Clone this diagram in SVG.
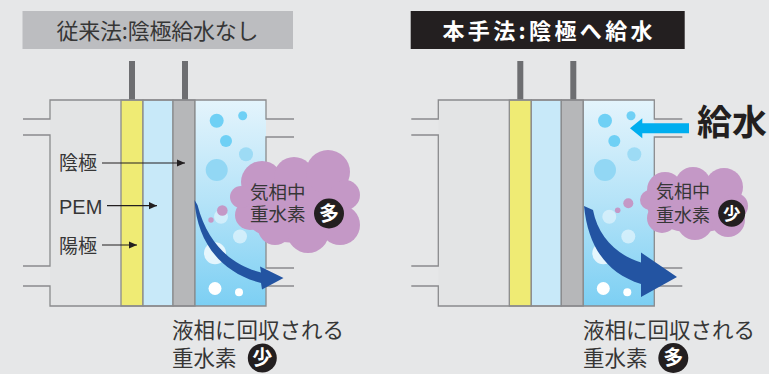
<svg xmlns="http://www.w3.org/2000/svg" width="769" height="374" viewBox="0 0 769 374">
  <defs>
    <linearGradient id="water" x1="0" y1="0" x2="0" y2="1">
      <stop offset="0" stop-color="#e4f4fc"/>
      <stop offset="0.5" stop-color="#b4e3f8"/>
      <stop offset="1" stop-color="#7ccff3"/>
    </linearGradient>
    <marker id="tip" viewBox="0 0 8 8" refX="8" refY="4" markerWidth="8" markerHeight="8" markerUnits="userSpaceOnUse" orient="auto">
      <path d="M0,0.4 L8,4 L0,7.6 Z" fill="#231f20"/>
    </marker>
    <!-- electrolysis cell: chambers, electrodes, membrane and pipe stubs -->
    <g id="cell">
      <rect x="50" y="100" width="71" height="206" fill="#e3e4e5"/>
      <rect x="129" y="61" width="6" height="39" fill="#6d6e71"/>
      <rect x="182" y="61" width="6" height="39" fill="#6d6e71"/>
      <rect x="121" y="100" width="22" height="206" fill="#efeb74" class="wall"/>
      <rect x="143" y="100" width="30" height="206" fill="#c8e9f9" class="wall"/>
      <rect x="173" y="100" width="22" height="206" fill="#b6b7b9" class="wall"/>
      <rect x="195" y="100" width="71" height="206" fill="url(#water)"/>
      <path class="wall" fill="none" d="M23,119 H50 V100 H266 V119 H294 M294,137 H266 V268 H294 M294,286 H266 V306 H50 V286 H23 M23,266 H50 V135 H23"/>
      <line class="wall" x1="195" y1="100" x2="195" y2="306"/>
      <!-- bubbles in the cathode water -->
      <circle cx="216.7" cy="120.7" r="7" fill="#6fd0f5"/>
      <circle cx="242.7" cy="115.7" r="4.5" fill="#6fd0f5"/>
      <circle cx="226" cy="141" r="6" fill="#6fd0f5"/>
      <circle cx="246" cy="154.3" r="7" fill="#9ddbf5"/>
      <circle cx="216.7" cy="170" r="11" fill="#92d7f4"/>
      <circle cx="221" cy="216.7" r="7" fill="#ffffff" fill-opacity="0.45"/>
      <circle cx="240" cy="236.5" r="7" fill="#ffffff" fill-opacity="0.5"/>
      <circle cx="215" cy="253.3" r="11" fill="#ffffff" fill-opacity="0.75"/>
      <circle cx="215" cy="288.5" r="6.5" fill="#ffffff"/>
      <circle cx="239" cy="292.3" r="4" fill="#ffffff"/>
    </g>
  </defs>
  <style>
    .wall { stroke: #8a8b8d; stroke-width: 1.3; }
    .jp { font-family: "Noto Sans CJK JP", "Noto Sans", sans-serif; fill: #363636; }
    .lat { font-family: "Liberation Sans", Arial, sans-serif; fill: #363636; }
    .badge { fill: #231f20; }
    .badgeText { font-family: "Noto Sans CJK JP", sans-serif; font-weight: bold; fill: #ffffff; }
    .cloud { fill: #c498c6; }
    .flow { fill: #2354a2; }
    .lead { stroke: #231f20; stroke-width: 1.2; fill: none; marker-end: url(#tip); }
  </style>

  <rect width="769" height="374" fill="#e6e7e8"/>

  <!-- conventional method -->
  <g id="conventional">
    <g id="title-conventional">
      <rect x="22.5" y="11" width="270.5" height="38" fill="#bcbdc0"/>
      <text class="jp" x="157.5" y="38.5" font-size="22" text-anchor="middle" textLength="202" lengthAdjust="spacing">従来法:陰極給水なし</text>
    </g>
    <g id="cell-conventional">
      <use href="#cell"/>
      <circle cx="222.3" cy="210.5" r="5.3" fill="#c498c6"/>
      <circle cx="211" cy="220" r="2.7" fill="#c498c6"/>
    </g>
    <g id="labels-conventional">
      <text class="jp" x="59" y="170" font-size="19">陰極</text>
      <text class="lat" x="59" y="213.7" font-size="20">PEM</text>
      <text class="jp" x="59" y="253" font-size="19">陽極</text>
    </g>
    <g id="flow-conventional">
      <path class="flow" d="M194.5,200 C197,243 222,273 261,283 L262,289.5 L283.5,278 L260,266.5 L261,272.5 C232,265 208,245 197.5,205 Z"/>
    </g>
    <g id="cloud-conventional">
      <g class="cloud">
        <ellipse cx="295" cy="205" rx="55" ry="38"/>
        <circle cx="262" cy="182" r="21"/>
        <circle cx="294" cy="177" r="20"/>
        <circle cx="328" cy="172" r="22"/>
        <circle cx="345" cy="195" r="15"/>
        <circle cx="340" cy="225" r="20"/>
        <circle cx="308" cy="232" r="21"/>
        <circle cx="275" cy="228" r="17"/>
        <circle cx="250" cy="215" r="15"/>
        <circle cx="241" cy="197" r="11"/>
      </g>
      <text class="jp" font-size="18.5"><tspan x="250" y="199">気相中</tspan><tspan x="250" y="221">重水素</tspan></text>
      <circle class="badge" cx="329" cy="213.5" r="15"/>
      <text class="badgeText" x="329" y="220.5" font-size="20" text-anchor="middle">多</text>
    </g>
    <g id="liquid-conventional">
      <text class="jp" font-size="21.5"><tspan x="172" y="338">液相に回収される</tspan><tspan x="172" y="365.5">重水素</tspan></text>
      <circle class="badge" cx="262.3" cy="358" r="14.5"/>
      <text class="badgeText" x="262.3" y="365" font-size="20" text-anchor="middle">少</text>
    </g>
  </g>

  <!-- proposed method: water fed to the cathode -->
  <g id="proposed">
    <g id="title-proposed">
      <rect x="410.7" y="11" width="274" height="38" fill="#231f20"/>
      <text class="badgeText" x="547.5" y="39" font-size="22" text-anchor="middle" textLength="210" lengthAdjust="spacing">本手法:陰極へ給水</text>
    </g>
    <g id="cell-proposed">
      <use href="#cell" x="388.3"/>
      <circle cx="628.3" cy="203.3" r="5" fill="#c498c6"/>
      <circle cx="617.7" cy="210.3" r="2.8" fill="#c498c6"/>
    </g>
    <g id="flow-proposed">
      <path class="flow" d="M584,206 C588,246 606,273 641,284 L641,297 L677,277 L641,252.5 L641,262.5 C616,255 598,236 593,210 Z"/>
    </g>
    <g id="cloud-proposed">
      <g class="cloud">
        <ellipse cx="695" cy="205" rx="48" ry="28"/>
        <circle cx="665" cy="190" r="18"/>
        <circle cx="693" cy="185" r="18"/>
        <circle cx="724" cy="187" r="19"/>
        <circle cx="735" cy="206" r="13"/>
        <circle cx="728" cy="220" r="17"/>
        <circle cx="695" cy="222" r="18"/>
        <circle cx="662" cy="218" r="15"/>
        <circle cx="650" cy="200" r="10"/>
      </g>
      <text class="jp" font-size="18"><tspan x="656" y="198">気相中</tspan><tspan x="656" y="222">重水素</tspan></text>
      <circle class="badge" cx="731.7" cy="213.3" r="13.5"/>
      <text class="badgeText" x="731.7" y="219.5" font-size="17.5" text-anchor="middle">少</text>
    </g>
    <g id="feed-water">
      <path d="M689,123.3 H642.3 V118.3 L630,128.3 L642.3,138.3 V133.3 H689 Z" fill="#00aeef"/>
      <text x="697" y="134.5" font-size="35" font-weight="bold" font-family="Noto Sans CJK JP, sans-serif" fill="#231f20">給水</text>
    </g>
    <g id="liquid-proposed">
      <text class="jp" font-size="21.5"><tspan x="583" y="338">液相に回収される</tspan><tspan x="583" y="365.5">重水素</tspan></text>
      <circle class="badge" cx="673.3" cy="358" r="15"/>
      <text class="badgeText" x="673.3" y="365" font-size="20" text-anchor="middle">多</text>
    </g>
  </g>

  <!-- leader lines from the layer names -->
  <g id="connectors">
    <line class="lead" x1="102" y1="163" x2="185" y2="163"/>
    <line class="lead" x1="107" y1="205.7" x2="157" y2="205.7"/>
    <line class="lead" x1="102" y1="245" x2="137" y2="245"/>
  </g>
</svg>
